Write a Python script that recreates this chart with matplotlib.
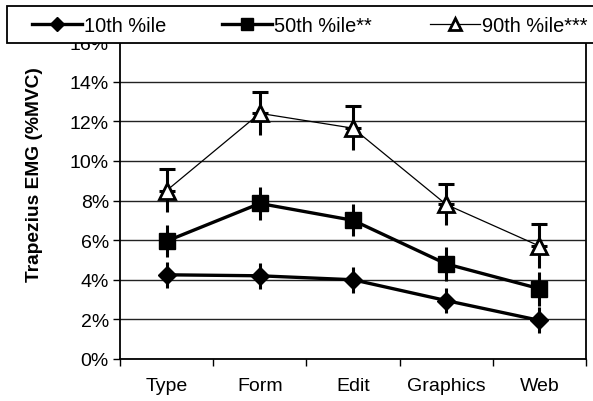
import numpy as np
import matplotlib
matplotlib.use('Agg')
import matplotlib.pyplot as plt
from matplotlib.patches import Rectangle
from matplotlib.ticker import PercentFormatter, FixedLocator

# data (% MVC)
tasks = ['Type', 'Form', 'Edit', 'Graphics', 'Web']
p10 = [4.25, 4.2, 4.0, 2.95, 1.95]
p50 = [5.95, 7.85, 7.0, 4.8, 3.55]
p90 = [8.5, 12.4, 11.65, 7.8, 5.7]
err10 = [0.65, 0.65, 0.65, 0.65, 0.65]
err50 = [0.8, 0.85, 0.8, 0.85, 0.85]
err90 = [1.1, 1.1, 1.1, 1.05, 1.1]
labels = ['10th %ile', '50th %ile**', '90th %ile***']

plt.rcParams['font.family'] = ['Liberation Sans', 'DejaVu Sans']

W, H = 593, 402
fig = plt.figure(figsize=(W / 100, H / 100), dpi=100)
ax = fig.add_axes([120 / W, 42 / H, 466 / W, 317 / H])
x = np.arange(len(tasks))

# error bars (no caps for 10th / 50th, upper cap only for 90th)
ax.errorbar(x, p10, yerr=err10, fmt='none', ecolor='black', elinewidth=2.2, capsize=0, zorder=3)
ax.errorbar(x, p50, yerr=err50, fmt='none', ecolor='black', elinewidth=2.2, capsize=0, zorder=3)
ax.errorbar(x, p90, yerr=[np.zeros(5), err90], fmt='none', ecolor='black', elinewidth=2.2,
            capsize=6, capthick=2.2, zorder=3)
ax.errorbar(x, p90, yerr=[err90, np.zeros(5)], fmt='none', ecolor='black', elinewidth=2.2,
            capsize=0, zorder=3)

h1, = ax.plot(x, p10, color='black', lw=2.4, marker='D', ms=9, mfc='black', mec='black', zorder=4)
h2, = ax.plot(x, p50, color='black', lw=2.4, marker='s', ms=11, mfc='black', mec='black', zorder=4)
h3, = ax.plot(x, p90, color='black', lw=0.9, marker='^', ms=11, mfc='white', mec='black',
              mew=2, zorder=4)

ax.set_xlim(-0.5, len(tasks) - 0.5)
ax.set_ylim(0, 16)
ax.set_yticks(np.arange(0, 17, 2))
ax.yaxis.set_major_formatter(PercentFormatter(decimals=0))
ax.grid(axis='y', color='#222222', lw=1.0)
ax.set_axisbelow(True)

ax.set_xticks(x)
ax.set_xticklabels(tasks)
ax.xaxis.set_minor_locator(FixedLocator(np.arange(-0.5, len(tasks), 1.0)))
ax.tick_params(axis='x', which='major', length=0, pad=13, labelsize=14)
ax.tick_params(axis='x', which='minor', length=5, width=1, direction='out')
ax.tick_params(axis='y', length=5, width=1, direction='out', labelsize=14, pad=3)

for s in ax.spines.values():
    s.set_linewidth(1.3)

ax.set_ylabel('Trapezius EMG (%MVC)', fontsize=13.8, fontweight='bold')
ax.yaxis.set_label_coords(-0.165, 0.585)

# legend box across the top, covering the 16% line
fig.patches.append(Rectangle((7 / W, 1 - 44 / H), 600 / W, 37 / H, transform=fig.transFigure,
                             facecolor='white', edgecolor='black', lw=1.3, zorder=4))
for h, lab, xs in zip([h1, h2, h3], labels, [32, 222, 430]):
    fig.legend([h], [lab], loc='center left', bbox_to_anchor=(xs / W, 1 - 26 / H),
               fontsize=14.4, frameon=False, handlelength=2.5, handletextpad=0.12,
               borderpad=0, borderaxespad=0, markerscale=0.8)

fig.savefig('out.png', dpi=100)
